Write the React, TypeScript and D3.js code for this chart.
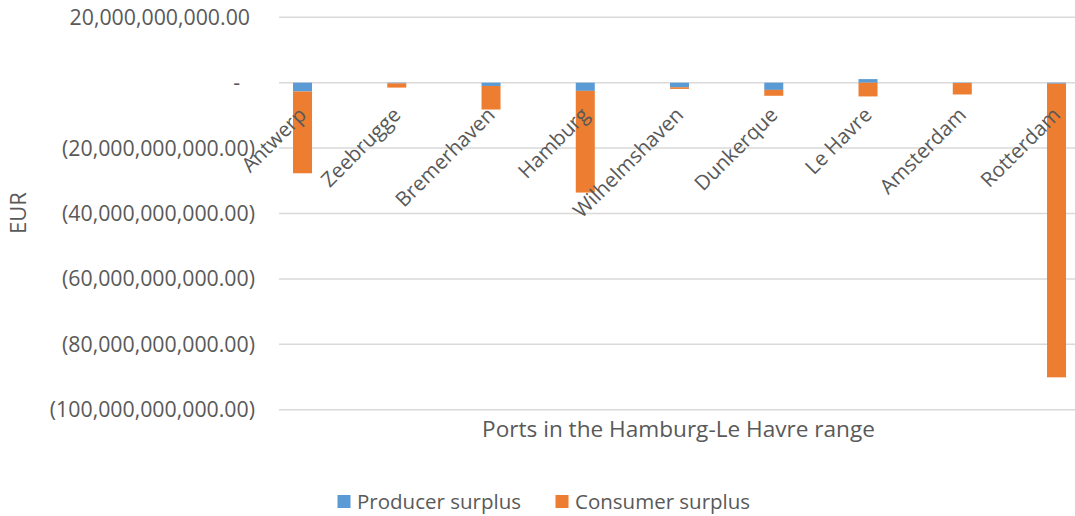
import React from "react";
import * as d3 from "d3";

const categories = ["Antwerp", "Zeebrugge", "Bremerhaven", "Hamburg", "Wilhelmshaven", "Dunkerque", "Le Havre", "Amsterdam", "Rotterdam"];
const producerSurplus = [-2.7e9, -0.2e9, -1.0e9, -2.5e9, -1.4e9, -2.2e9, 1.1e9, -0.1e9, -0.3e9];
const consumerSurplus = [-25.0e9, -1.3e9, -7.2e9, -31.1e9, -0.5e9, -1.8e9, -4.2e9, -3.5e9, -89.8e9];
const yTicks = [20e9, 0, -20e9, -40e9, -60e9, -80e9, -100e9];
const seriesNames = ["Producer surplus", "Consumer surplus"];
const colors = ["#5b9bd5", "#ed7d31"];

const FONT = "'Open Sans', sans-serif";
const TEXT = "#595959";

function fmt(v: number): string {
  if (v === 0) return "-";
  const s = d3.format(",.2f")(Math.abs(v));
  return v < 0 ? `(${s})` : s;
}

export default function App() {
  const W = 1075, H = 516;
  const plotLeft = 279, plotRight = 1075;
  const y = d3.scaleLinear().domain([-100e9, 20e9]).range([409.7, 17.3]);
  const x = d3.scaleBand<string>().domain(categories).range([279, 279 + 9 * 94.25]).padding(0);
  const barW = 19;
  const barOffset = -23.6;

  const bars: JSX.Element[] = [];
  categories.forEach((c, i) => {
    const cx = (x(c) as number) + x.bandwidth() / 2 + barOffset;
    let pos = 0, neg = 0;
    [producerSurplus[i], consumerSurplus[i]].forEach((v, s) => {
      let y0: number, y1: number;
      if (v >= 0) { y0 = pos; y1 = pos + v; pos = y1; }
      else { y0 = neg; y1 = neg + v; neg = y1; }
      const top = Math.min(y(y0), y(y1));
      const h = Math.abs(y(y0) - y(y1));
      bars.push(<rect key={`${c}-${s}`} x={cx - barW / 2} y={top} width={barW} height={h} fill={colors[s]} />);
    });
  });

  return (
    <svg width={W} height={H} style={{ position: "absolute", left: 0, top: 0, display: "block" }}>
      <rect x={0} y={0} width={W} height={H} fill="#fff" />
      {yTicks.map((t) => (
        <line key={t} x1={plotLeft} x2={plotRight} y1={y(t)} y2={y(t)} stroke="#d9d9d9" strokeWidth={1.5} />
      ))}
      {yTicks.map((t) => (
        <text key={`l${t}`} x={t === 0 ? 240 : t > 0 ? 250 : 255} y={y(t)} dy="0.35em" textAnchor="end" fontFamily={FONT} fontSize={21.3} fill={TEXT}>
          {fmt(t)}
        </text>
      ))}
      {bars}
      {categories.map((c) => {
        const cx = (x(c) as number) + x.bandwidth() / 2 + barOffset;
        const ax = cx - 5, ay = 106;
        return (
          <text key={`c${c}`} x={ax} y={ay} dy="0.7em" textAnchor="end" transform={`rotate(-45 ${ax} ${ay})`} fontFamily={FONT} fontSize={20.5} fill={TEXT}>
            {c}
          </text>
        );
      })}
      <text x={18} y={213} dy="0.35em" textAnchor="middle" transform="rotate(-90 18 213)" fontFamily={FONT} fontSize={22} fill={TEXT}>EUR</text>
      <text x={678.5} y={437} textAnchor="middle" fontFamily={FONT} fontSize={22.6} fill={TEXT}>Ports in the Hamburg-Le Havre range</text>
      {seriesNames.map((n, i) => {
        const lx = i === 0 ? 337.5 : 555.5;
        return (
          <g key={n}>
            <rect x={lx} y={495} width={13} height={13} fill={colors[i]} />
            <text x={lx + 19.5} y={501.5} dy="0.35em" fontFamily={FONT} fontSize={20.5} fill={TEXT}>{n}</text>
          </g>
        );
      })}
    </svg>
  );
}
